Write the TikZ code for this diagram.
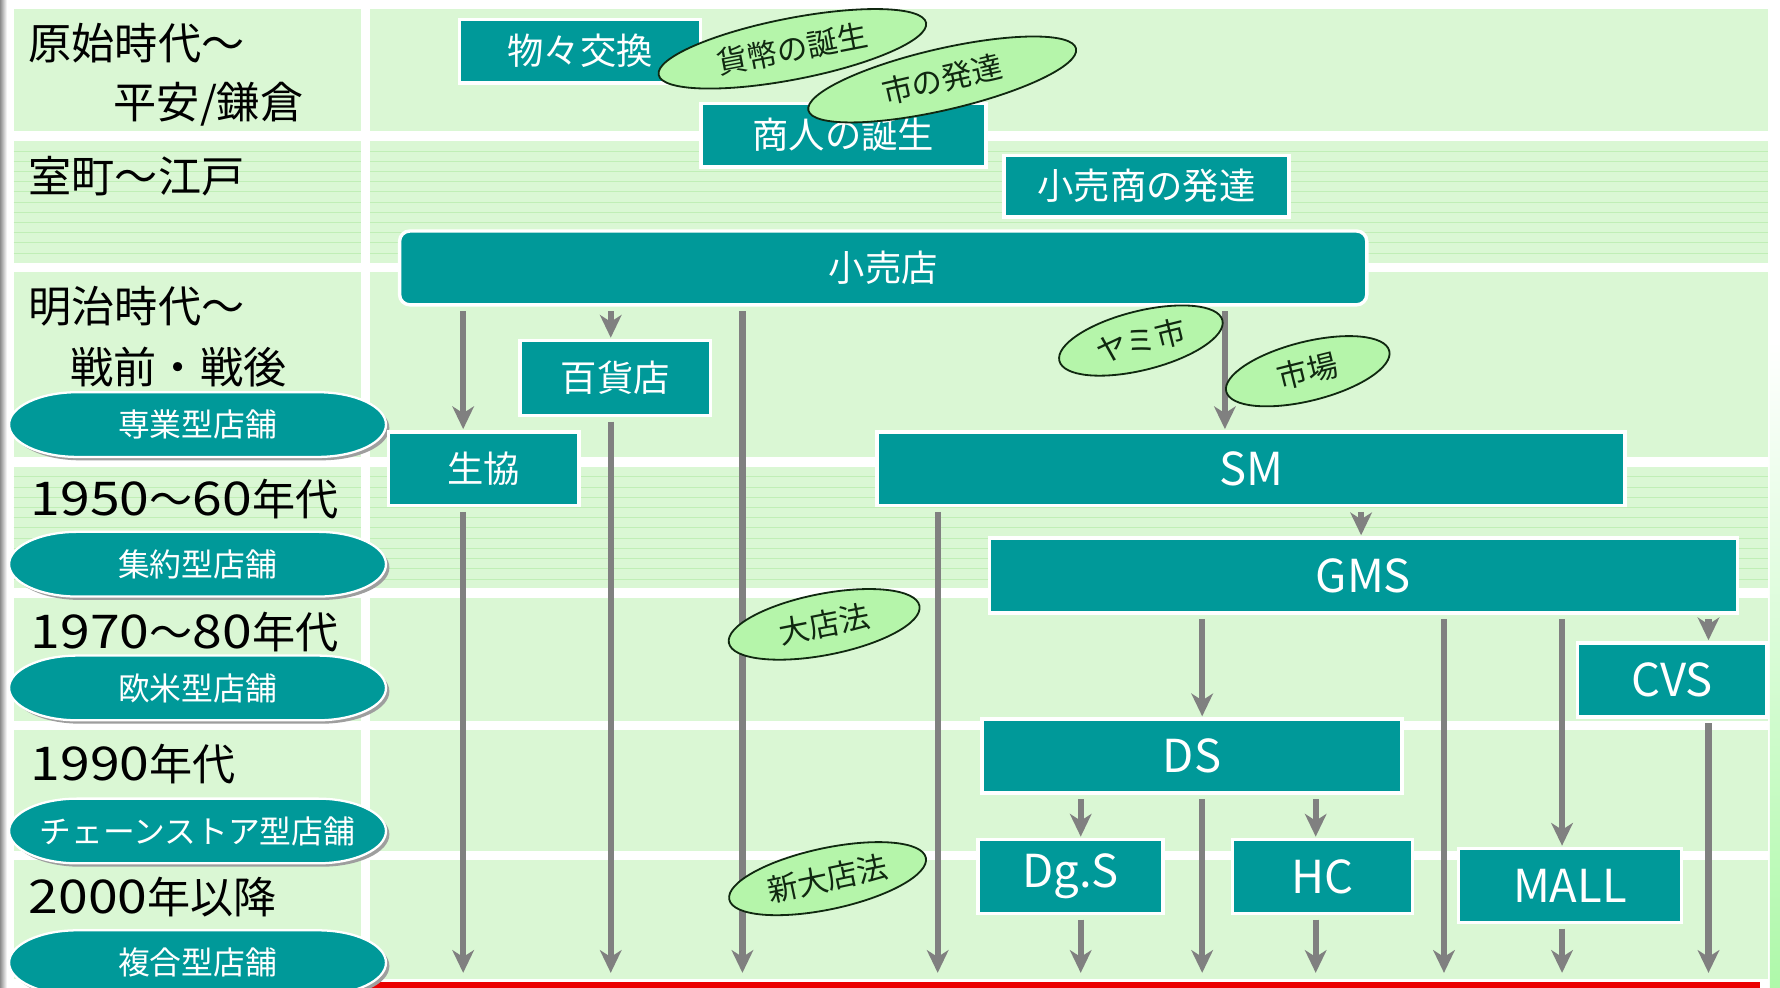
\documentclass[tikz,border=0pt]{standalone}
\usepackage{fontspec}
\setmainfont{Noto Sans CJK JP}
\newfontfamily\digitfont[FakeStretch=1.15]{Noto Sans CJK JP}
\usetikzlibrary{arrows.meta,shapes.geometric}
\definecolor{band}{RGB}{218,247,212}
\definecolor{stripe}{RGB}{192,238,182}
\definecolor{tealbox}{RGB}{0,153,153}
\definecolor{leaf}{RGB}{181,245,170}
\definecolor{leafline}{RGB}{16,40,16}
\definecolor{arrowgray}{RGB}{128,128,128}
\definecolor{redline}{RGB}{235,0,0}
\newcommand\fsz[1]{\fontsize{#1}{#1}\selectfont}
\newcommand\dg[1]{{\digitfont\fontsize{41}{41}\selectfont #1}}
% pill: name, x, y, text
\newcommand\pillshape{(-106,-28.5) -- (106,-28.5) arc[start angle=-90, end angle=90, x radius=60, y radius=28.5]
   -- (-106,28.5) arc[start angle=90, end angle=270, x radius=60, y radius=28.5] -- cycle}
\newcommand\pill[4]{%
  \coordinate (#1) at (#2,#3);
  \fill[black!38, shift={(#2+3,#3+3)}] \pillshape;
  \filldraw[fill=tealbox, draw=white, line width=2pt, shift={(#2,#3)}] \pillshape;
  \node[pilltext] (#1t) at (#1) {#4};
}
\begin{document}
\begin{tikzpicture}[x=1pt,y=-1pt,
  era/.style={anchor=west, inner sep=0pt, text=black, font=\fsz{38}},
  box/.style={draw=white, line width=3pt, fill=tealbox, text=white, inner sep=0pt, font=\fsz{32}},
  latinbox/.style={box, font=\fsz{40}},
  pilltext/.style={text=white, inner sep=0pt, font=\fsz{28}},
  leafy/.style={ellipse, draw=leafline, line width=1.6pt, fill=leaf, inner sep=0pt, text=leafline, font=\fsz{27}},
  arr/.style={draw=arrowgray, line width=5.5pt, shorten <=4pt, shorten >=1pt,
    -{Stealth[length=20pt, width=19pt, inset=6pt]}, arrowgray}
]
\useasboundingbox (0,0) rectangle (1568,870);
\fill[white] (0,0) rectangle (1568,870);
\shade[left color=black!45, right color=white] (0,0) rectangle (6,870);
\shade[top color=white, bottom color=band!80!green] (1559,300) rectangle (1568,870);

% bands
\foreach \ya/\yb in {8/115, 124/232, 240/403, 411/518, 527/635, 643/750, 758/862}{
  \fill[band] (12,\ya) rectangle (318,\yb);
  \fill[band] (326,\ya) rectangle (1557,\yb);
}
% stripes
\foreach \ya/\yb in {124/232, 411/518}{
  \foreach \k in {1,...,11}{
    \draw[stripe, line width=0.8pt] (12,\ya+\k*9) -- (318,\ya+\k*9);
    \draw[stripe, line width=0.8pt] (326,\ya+\k*9) -- (1557,\ya+\k*9);
  }
}

% red line
\fill[redline] (312,865) rectangle (1550,871);

% era labels
\node[era] (e1) at (25,38) {原始時代〜};
\node[era] (e1b) at (100,92) {平安/鎌倉};
\node[era] (e2) at (25,155) {室町〜江戸};
\node[era] (e3) at (25,270) {明治時代〜};
\node[era] (e3b) at (62,323) {戦前・戦後};
\node[era] (e4) at (27,440) {\dg{1950}〜\dg{60}年代};
\node[era] (e5) at (27,557) {\dg{1970}〜\dg{80}年代};
\node[era] (e6) at (27,673) {\dg{1990}年代};
\node[era] (e7) at (25,790) {\dg{2000}年以降};

% pills
\pill{p1}{174}{374}{専業型店舗}
\pill{p2}{174}{497}{集約型店舗}
\pill{p3}{174}{606}{欧米型店舗}
\pill{p4}{174}{732}{チェーンストア型店舗}
\pill{p5}{174}{848}{複合型店舗}

% boxes
\node[box, minimum width=212, minimum height=56] (mono) at (511,45) {物々交換};
\node[box, minimum width=251, minimum height=56] (shonin) at (743,119) {商人の誕生};
\node[box, minimum width=251, minimum height=54] (kourisho) at (1010,164) {小売商の発達};
\node[box, rounded corners=9pt, minimum width=852, minimum height=65] (kouri) at (778,236) {小売店};
\node[box, minimum width=168, minimum height=66] (hyakka) at (542,333) {百貨店};
\node[box, minimum width=168, minimum height=65] (seikyo) at (426,413) {生協};
\node[latinbox, minimum width=659, minimum height=65] (sm) at (1102,413) {SM};
\node[latinbox, minimum width=659, minimum height=66] (gms) at (1201,507) {GMS};
\node[latinbox, minimum width=167, minimum height=65] (cvs) at (1473,599) {CVS};
\node[latinbox, minimum width=370, minimum height=65] (ds) at (1050,666) {DS};
\node[latinbox, minimum width=163, minimum height=65] (dgs) at (943,772) {Dg.S};
\node[latinbox, minimum width=159, minimum height=65] (hc) at (1165,772) {HC};
\node[latinbox, minimum width=196, minimum height=65] (mall) at (1383,780) {MALL};

% bottom coordinates
\foreach \xx in {408,538,654,826,952,1059,1079,1159,1199,1272,1376,1505}{
  \coordinate (x\xx) at (\xx,858);
}

% arrows
\draw[arr] (kouri.south -| x408) -- (seikyo.north -| x408);
\draw[arr] (kouri.south -| x538) -- (hyakka.north -| x538);
\draw[arr] (kouri.south -| x654) -- (x654);
\draw[arr] (seikyo.south -| x408) -- (x408);
\draw[arr] (hyakka.south -| x538) -- (x538);
\draw[arr] (kouri.south -| x1079) -- (sm.north -| x1079);
\draw[arr] (sm.south -| x826) -- (x826);
\draw[arr] (sm.south -| x1199) -- (gms.north -| x1199);
\draw[arr] (gms.south -| x1059) -- (ds.north -| x1059);
\draw[arr] (gms.south -| x1272) -- (x1272);
\draw[arr] (gms.south -| x1376) -- (mall.north -| x1376);
\draw[arr] (gms.south -| x1505) -- (cvs.north -| x1505);
\draw[arr] (cvs.south -| x1505) -- (x1505);
\draw[arr] (ds.south -| x952) -- (dgs.north -| x952);
\draw[arr] (ds.south -| x1059) -- (x1059);
\draw[arr] (ds.south -| x1159) -- (hc.north -| x1159);
\draw[arr] (dgs.south -| x952) -- (x952);
\draw[arr] (hc.south -| x1159) -- (x1159);
\draw[arr] (mall.south -| x1376) -- (x1376);

% green ellipses
\node[leafy, minimum width=240, minimum height=54, rotate=11] (kahei) at (698,43) {貨幣の誕生};
\node[leafy, minimum width=242, minimum height=54, rotate=13] (ichi) at (830,70) {市の発達};
\node[leafy, minimum width=148, minimum height=52, rotate=14] (yami) at (1005,300) {ヤミ市};
\node[leafy, minimum width=148, minimum height=52, rotate=14] (ichiba) at (1152,327) {市場};
\node[leafy, minimum width=171, minimum height=54, rotate=11] (daiten) at (726,550) {大店法};
\node[leafy, minimum width=177, minimum height=54, rotate=12] (shindaiten) at (729,774) {新大店法};
\end{tikzpicture}
\end{document}
